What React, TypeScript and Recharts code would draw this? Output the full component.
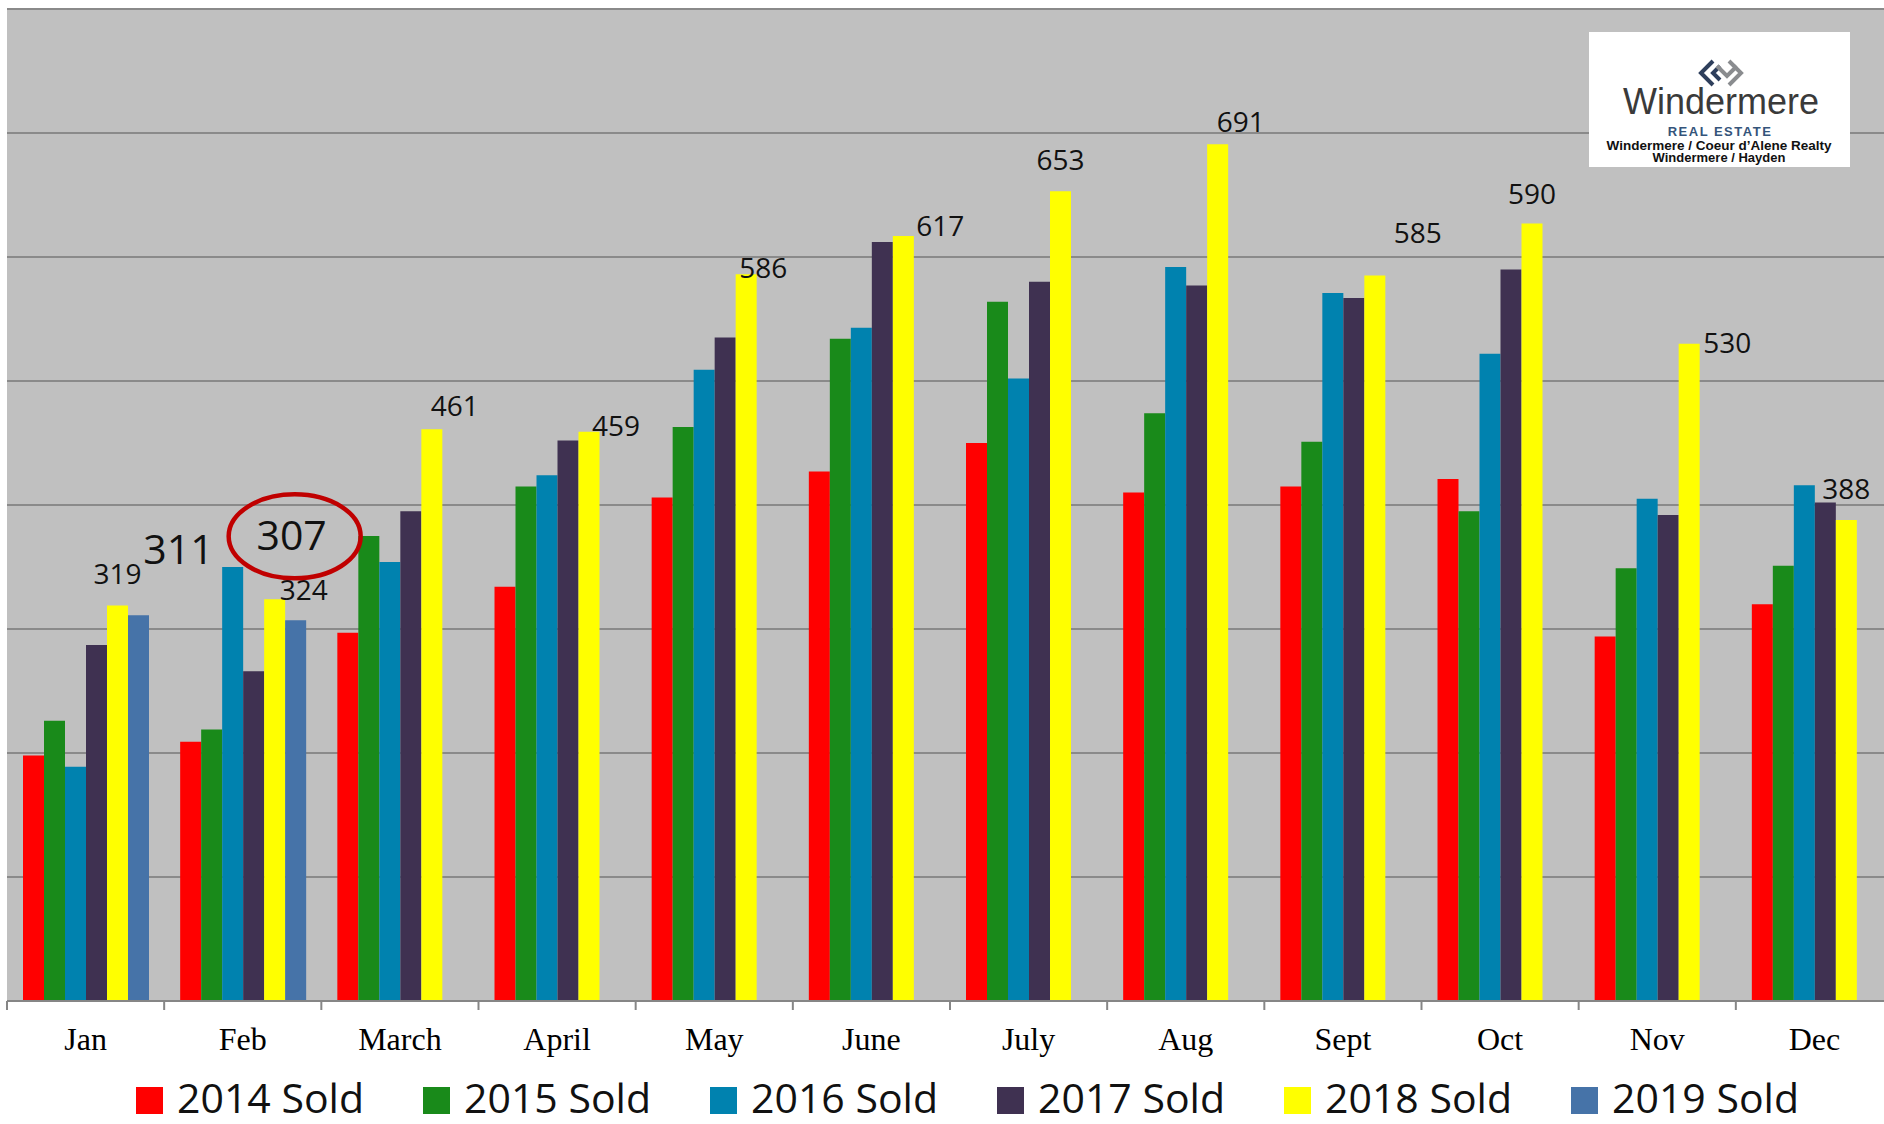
import React from 'react';
import { BarChart, Bar, XAxis, YAxis, CartesianGrid, LabelList } from 'recharts';

// months sold (Windermere Coeur d'Alene)
const months = ['Jan', 'Feb', 'March', 'April', 'May', 'June', 'July', 'Aug', 'Sept', 'Oct', 'Nov', 'Dec'];
const sold2014 = [198, 209, 297, 334, 406, 427, 450, 410, 415, 421, 294, 320];
const sold2015 = [226, 219, 375, 415, 463, 534, 564, 474, 451, 395, 349, 351];
const sold2016 = [189, 350, 354, 424, 509, 543, 502, 592, 571, 522, 405, 416];
const sold2017 = [287, 266, 395, 452, 535, 612, 580, 577, 567, 590, 392, 402];
const sold2018 = [319, 324, 461, 459, 586, 617, 653, 691, 585, 627, 530, 388];
const sold2019 = [311, 307, null, null, null, null, null, null, null, null, null, null];
// the printed 2018 labels (Oct label says 590 although the bar is taller)
const labels2018 = ['319', '324', '461', '459', '586', '617', '653', '691', '585', '590', '530', '388'];
const yTicks = [0, 100, 200, 300, 400, 500, 600, 700, 800];

const series = [
  { key: 's2014', name: '2014 Sold', color: '#FF0000', values: sold2014 },
  { key: 's2015', name: '2015 Sold', color: '#198A1A', values: sold2015 },
  { key: 's2016', name: '2016 Sold', color: '#0082AF', values: sold2016 },
  { key: 's2017', name: '2017 Sold', color: '#3F3151', values: sold2017 },
  { key: 's2018', name: '2018 Sold', color: '#FFFF00', values: sold2018 },
  { key: 's2019', name: '2019 Sold', color: '#4673A8', values: sold2019 },
];

const chartData = months.map((month, i) => {
  const row: Record<string, any> = { month };
  series.forEach(s => { row[s.key] = s.values[i]; });
  return row;
});

// layout
const CHART_W = 1900;
const CHART_H = 1124;
const MARGIN = { top: 9, right: 7, bottom: 63, left: 7 };
const BAND = (CHART_W - MARGIN.left - MARGIN.right) / months.length;
const AXIS_GRAY = '#868686';
const LABEL_FONT = "'Open Sans', 'Noto Sans', sans-serif";
const LOGO_FONT = "'Liberation Sans', Arial, sans-serif";

// hand placed label nudges, [dx from bar centre, dy from bar top]
const NUDGE_2018 = [[0, -21], [29, 1], [23, -13], [27, 4], [17, 4], [37, 0], [0, -21], [23, -12], [43, -33], [0, -20], [38, 9], [0, -21]];
const NUDGE_2019 = [[40, -51], [-4, -70]];

const MonthTick = (props: any) => {
  const { x, y, payload } = props;
  const left = x - BAND / 2;
  return (
    <g>
      <line x1={left} x2={left} y1={y - 9} y2={y} stroke={AXIS_GRAY} strokeWidth={2} />
      <text
        x={x}
        y={y + 40}
        textAnchor="middle"
        fontFamily="'Liberation Serif', 'Times New Roman', serif"
        fontSize={32}
        fill="#000"
      >
        {payload.value}
      </text>
    </g>
  );
};

const label2018 = (props: any) => {
  const { x, y, width, index } = props;
  if (x == null || index == null) return null;
  const [dx, dy] = NUDGE_2018[index];
  return (
    <text x={x + width / 2 + dx} y={y + dy} textAnchor="middle" fontFamily={LABEL_FONT} fontSize={28} fill="#111">
      {labels2018[index]}
    </text>
  );
};

const label2019 = (props: any) => {
  const { x, y, width, index, value } = props;
  if (value == null || index == null || !NUDGE_2019[index]) return null;
  const cx = x + width / 2;
  const [dx, dy] = NUDGE_2019[index];
  return (
    <g>
      {index === 1 && (
        <ellipse cx={cx - 1} cy={y - 84} rx={66} ry={42} fill="none" stroke="#C00000" strokeWidth={4.5} />
      )}
      <text x={cx + dx} y={y + dy} textAnchor="middle" fontFamily={LABEL_FONT} fontSize={41} fill="#111">
        {value}
      </text>
    </g>
  );
};

const Logo = () => (
  <g>
    <rect x={1589} y={32} width={261} height={135} fill="#fff" />
    {/* rough Windermere mark: navy bracket + grey bracket */}
    <path d="M1713,61 L1701,73 L1713,85 M1720,66 L1713,73 L1720,80" fill="none" stroke="#2E3F5C" strokeWidth={4} />
    <path d="M1717,66 L1727,76 L1737,66 M1729,61 L1741,73 L1729,85" fill="none" stroke="#8A8C8F" strokeWidth={4} />
    <text x={1721} y={114} textAnchor="middle" fontFamily={LOGO_FONT} fontSize={36} fill="#3A3A3A">
      Windermere
    </text>
    <text x={1720} y={136} textAnchor="middle" fontFamily={LOGO_FONT} fontSize={13} fontWeight="bold" letterSpacing={1.5} fill="#34547A">
      REAL ESTATE
    </text>
    <text x={1719} y={150} textAnchor="middle" fontFamily={LOGO_FONT} fontSize={13.5} fontWeight="bold" fill="#111">
      Windermere / Coeur d’Alene Realty
    </text>
    <text x={1719} y={162} textAnchor="middle" fontFamily={LOGO_FONT} fontSize={13} fontWeight="bold" fill="#111">
      Windermere / Hayden
    </text>
  </g>
);

const LegendRow = () => (
  <g>
    {series.map((s, i) => {
      const left = 136 + i * 287;
      return (
        <g key={s.key}>
          <rect x={left} y={1087} width={27} height={27} fill={s.color} />
          <text x={left + 41} y={1113} fontFamily={LABEL_FONT} fontSize={41} fill="#111">
            {s.name}
          </text>
        </g>
      );
    })}
  </g>
);

export default function App() {
  return (
    <div style={{ width: 1884, height: 1124, position: 'relative', overflow: 'hidden', background: '#fff' }}>
      <style>{'body { margin: 0; }'}</style>
      <BarChart
        width={CHART_W}
        height={CHART_H}
        data={chartData}
        margin={MARGIN}
        barCategoryGap="10%"
        barGap={0}
      >
        <CartesianGrid vertical={false} stroke="#8A8A8A" strokeWidth={2} fill="#C0C0C0" fillOpacity={1} />
        <XAxis
          dataKey="month"
          interval={0}
          height={60}
          tickSize={9}
          tickMargin={0}
          tickLine={false}
          axisLine={{ stroke: AXIS_GRAY, strokeWidth: 2 }}
          tick={<MonthTick />}
        />
        <YAxis hide type="number" domain={[0, 800]} ticks={yTicks} />
        {series.map(s => (
          <Bar key={s.key} dataKey={s.key} name={s.name} fill={s.color} barSize={21} isAnimationActive={false}>
            {s.key === 's2018' && <LabelList dataKey={s.key} content={label2018} />}
            {s.key === 's2019' && <LabelList dataKey={s.key} content={label2019} />}
          </Bar>
        ))}
      </BarChart>
      <svg width={1884} height={1124} style={{ position: 'absolute', left: 0, top: 0, pointerEvents: 'none' }}>
        <Logo />
        <LegendRow />
      </svg>
    </div>
  );
}
